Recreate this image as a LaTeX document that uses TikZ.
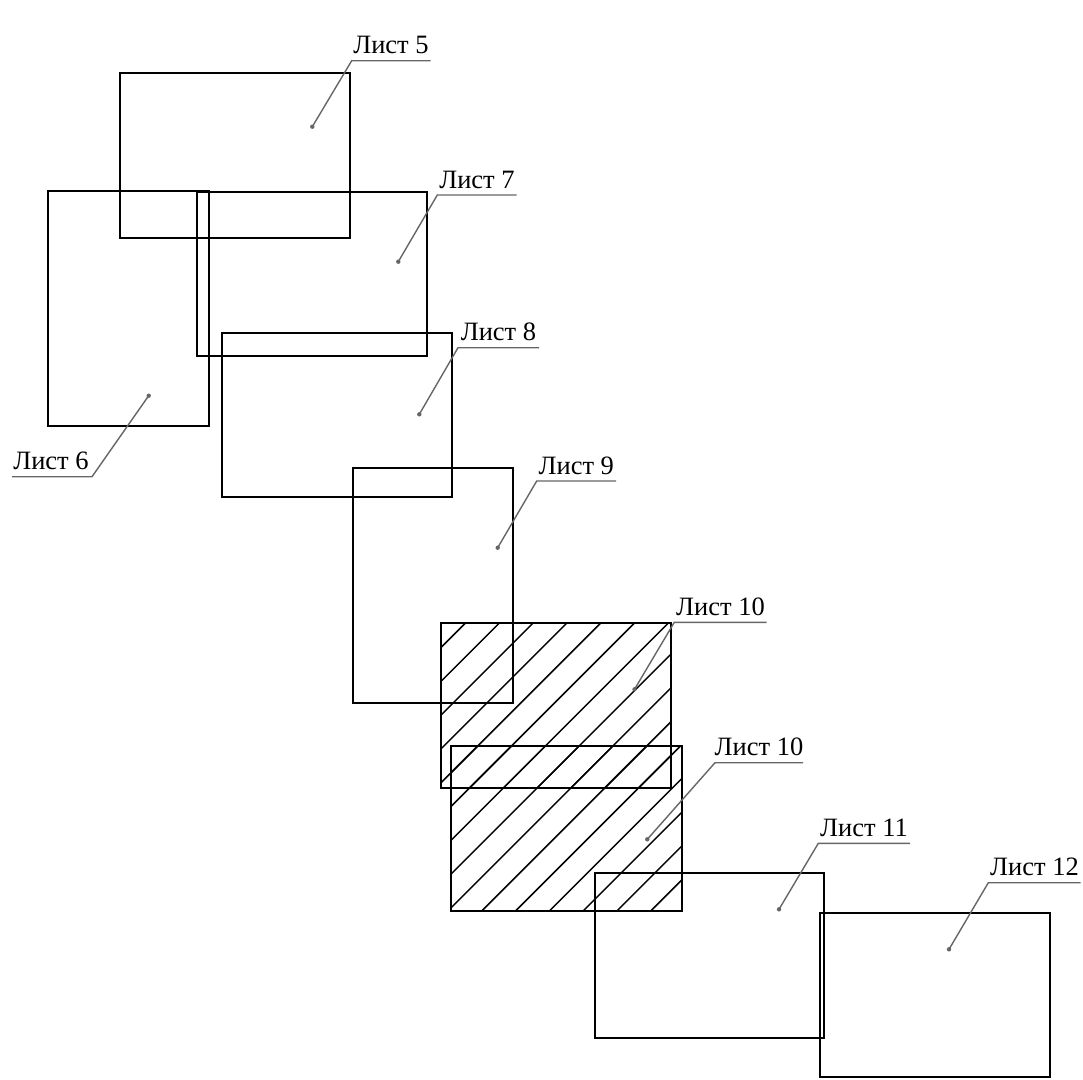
\documentclass[tikz,border=0pt]{standalone}
\usepackage{fontspec}
\setmainfont{Liberation Serif}
\begin{document}
\begin{tikzpicture}[x=1pt,y=-1pt,
  sheet/.style={draw=black,line width=1.8pt},
  hatchline/.style={draw=black,line width=1.5pt},
  leader/.style={draw=black!60,line width=1.4pt},
  lbl/.style={font=\fontsize{26.5}{30}\selectfont,inner sep=0pt,anchor=base},
  dotmark/.style={fill=black!60}]
\useasboundingbox (0,0) rectangle (1083,1079);
% hatching
\begin{scope}
  \clip (441,623) rectangle (671,788);
  \foreach \k in {0,...,14} {
    \draw[hatchline] ({1054.7+33.8*\k-950},950) -- ({1054.7+33.8*\k-550},550);
  }
\end{scope}
\begin{scope}
  \clip (451,746) rectangle (682,911);
  \foreach \k in {3,...,17} {
    \draw[hatchline] ({1054.7+33.8*\k-950},950) -- ({1054.7+33.8*\k-550},550);
  }
\end{scope}
% sheets
\draw[sheet] (120,73) rectangle (350,238);
\draw[sheet] (48,191) rectangle (209,426);
\draw[sheet] (197,192) rectangle (427,356);
\draw[sheet] (222,333) rectangle (452,497);
\draw[sheet] (353,468) rectangle (513,703);
\draw[sheet] (441,623) rectangle (671,788);
\draw[sheet] (451,746) rectangle (682,911);
\draw[sheet] (595,873) rectangle (824,1038);
\draw[sheet] (820,913) rectangle (1050,1077);
% labels
\node[lbl] (t5) at (391,53) {Лист 5};
\node[lbl] (t6) at (51,469) {Лист 6};
\node[lbl] (t7) at (477,188) {Лист 7};
\node[lbl] (t8) at (498.5,340.7) {Лист 8};
\node[lbl] (t9) at (576.3,474) {Лист 9};
\node[lbl] (t10a) at (720.5,615) {Лист 10};
\node[lbl] (t10b) at (759,755.7) {Лист 10};
\node[lbl] (t11) at (864,836) {Лист 11};
\node[lbl] (t12) at (1034.5,875.7) {Лист 12};
% leader coordinates
\coordinate (d5) at (312.3,126.7); \coordinate (k5) at (351.7,60.7); \coordinate (e5) at (430.7,60.7);
\coordinate (d6) at (148.7,395.7); \coordinate (k6) at (92,476.7); \coordinate (e6) at (12,476.7);
\coordinate (d7) at (398.3,261.7); \coordinate (k7) at (437.3,195); \coordinate (e7) at (516.7,195);
\coordinate (d8) at (419.3,414.3); \coordinate (k8) at (458,347.7); \coordinate (e8) at (539,347.7);
\coordinate (d9) at (497.7,547.7); \coordinate (k9) at (536.7,481); \coordinate (e9) at (616,481);
\coordinate (d10a) at (634.5,689.3); \coordinate (k10a) at (674.3,622.3); \coordinate (e10a) at (766.7,622.3);
\coordinate (d10b) at (647.3,839.3); \coordinate (k10b) at (715,762.7); \coordinate (e10b) at (803,762.7);
\coordinate (d11) at (779,909.3); \coordinate (k11) at (818.3,843.3); \coordinate (e11) at (910,843.3);
\coordinate (d12) at (949,949.3); \coordinate (k12) at (988.3,882.7); \coordinate (e12) at (1080.7,882.7);
\foreach \n in {5,6,7,8,9,10a,10b,11,12} {
  \draw[leader] (d\n) -- (k\n) -- (e\n);
  \fill[dotmark] (d\n) circle (2.2);
}
\end{tikzpicture}
\end{document}
